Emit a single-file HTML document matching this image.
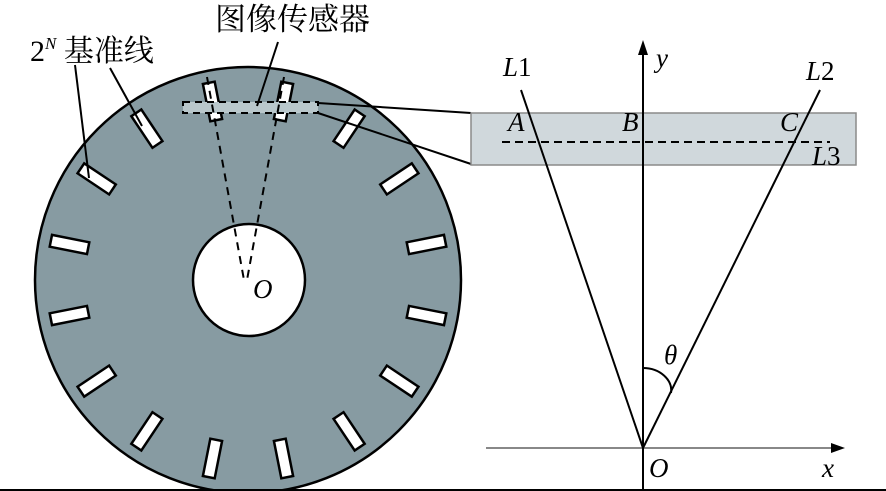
<!DOCTYPE html>
<html><head><meta charset="utf-8"><style>html,body{margin:0;padding:0;background:#fff}svg{display:block}
.t{font-family:"Liberation Serif","Noto Serif CJK SC",serif}
</style></head>
<body>
<svg width="886" height="491" viewBox="0 0 886 491" xmlns="http://www.w3.org/2000/svg">
<circle cx="248" cy="280" r="213" fill="#879ba2" stroke="#000" stroke-width="2.5"/>
<circle cx="249" cy="280" r="56" fill="#fff" stroke="#000" stroke-width="2.5"/>
<g fill="#fff" stroke="#000" stroke-width="2.5">
<rect x="242" y="79" width="12" height="38" transform="rotate(11.25 248 280)"/>
<rect x="242" y="79" width="12" height="38" transform="rotate(33.75 248 280)"/>
<rect x="242" y="79" width="12" height="38" transform="rotate(56.25 248 280)"/>
<rect x="242" y="79" width="12" height="38" transform="rotate(78.75 248 280)"/>
<rect x="242" y="79" width="12" height="38" transform="rotate(101.25 248 280)"/>
<rect x="242" y="79" width="12" height="38" transform="rotate(123.75 248 280)"/>
<rect x="242" y="79" width="12" height="38" transform="rotate(146.25 248 280)"/>
<rect x="242" y="79" width="12" height="38" transform="rotate(168.75 248 280)"/>
<rect x="242" y="79" width="12" height="38" transform="rotate(191.25 248 280)"/>
<rect x="242" y="79" width="12" height="38" transform="rotate(213.75 248 280)"/>
<rect x="242" y="79" width="12" height="38" transform="rotate(236.25 248 280)"/>
<rect x="242" y="79" width="12" height="38" transform="rotate(258.75 248 280)"/>
<rect x="242" y="79" width="12" height="38" transform="rotate(281.25 248 280)"/>
<rect x="242" y="79" width="12" height="38" transform="rotate(303.75 248 280)"/>
<rect x="242" y="79" width="12" height="38" transform="rotate(326.25 248 280)"/>
<rect x="242" y="79" width="12" height="38" transform="rotate(348.75 248 280)"/>
</g>
<rect x="183" y="102" width="135" height="11" fill="#b9c7cb" stroke="#000" stroke-width="2" stroke-dasharray="7,5"/>
<g stroke="#000" stroke-width="2" stroke-dasharray="8,6" fill="none">
<line x1="207" y1="77" x2="244" y2="280"/>
<line x1="284" y1="77" x2="247" y2="280"/>
</g>
<g stroke="#000" stroke-width="2" fill="none">
<line x1="318" y1="103" x2="471" y2="113"/>
<line x1="318" y1="113" x2="471" y2="164"/>
<line x1="278" y1="42" x2="257" y2="106"/>
<line x1="75" y1="65" x2="89" y2="178"/>
<line x1="110" y1="68" x2="142" y2="126"/>
</g>
<rect x="471" y="113" width="385" height="52" fill="#d0d8dc" stroke="#8a8a8a" stroke-width="1.5"/>
<line x1="502" y1="142" x2="830" y2="142" stroke="#000" stroke-width="2" stroke-dasharray="8,5"/>
<line x1="486" y1="448" x2="835" y2="448" stroke="#888" stroke-width="2"/>
<polygon points="845,448 831,443 831,453" fill="#000"/>
<line x1="643" y1="52" x2="643" y2="491" stroke="#000" stroke-width="2"/>
<polygon points="643,40 638,55 648,55" fill="#000"/>
<g stroke="#000" stroke-width="2" fill="none">
<line x1="521" y1="90" x2="643" y2="448"/>
<line x1="820" y1="90" x2="643" y2="448"/>
<path d="M643,368 C660,368 673,380 671,393"/>
</g>
<line x1="0" y1="490" x2="886" y2="490" stroke="#000" stroke-width="2"/>
<g class="t" fill="#000">
<text x="215" y="30" font-size="31">图像传感器</text>
<text x="30" y="61" font-size="30">2<tspan font-size="17" dy="-12" font-style="italic">N</tspan><tspan dy="12"> 基准线</tspan></text>
<g font-style="italic" font-size="27">
<text x="503" y="76">L<tspan font-style="normal">1</tspan></text>
<text x="806" y="80">L<tspan font-style="normal">2</tspan></text>
<text x="812" y="165">L<tspan font-style="normal">3</tspan></text>
<text x="656" y="67">y</text>
<text x="508" y="131">A</text>
<text x="622" y="131">B</text>
<text x="780" y="131">C</text>
<text x="664" y="364">θ</text>
<text x="649" y="477">O</text>
<text x="822" y="477">x</text>
<text x="253" y="298">O</text>
</g>
</g>
</svg>
</body></html>
